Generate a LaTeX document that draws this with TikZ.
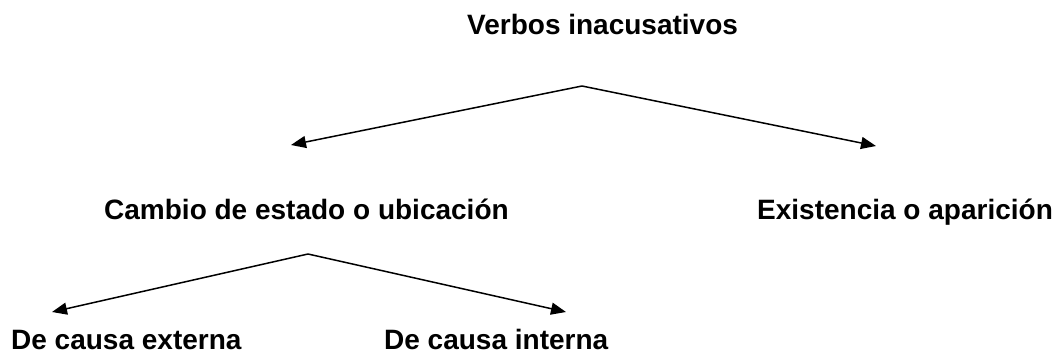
\documentclass[tikz,border=0pt]{standalone}
\usepackage{fontspec}
\setmainfont{Liberation Sans}
\usetikzlibrary{arrows.meta}
\begin{document}
\begin{tikzpicture}[x=1pt,y=1pt,
  lbl/.style={anchor=base west,inner sep=0pt,font=\fontsize{28}{33}\selectfont\bfseries},
  arr/.style={line width=1.5pt,-{Triangle[length=15pt,width=12pt]}}]
\useasboundingbox (0,0) rectangle (1060,-354);
\node[lbl] (verbos) at (467,-34) {Verbos inacusativos};
\node[lbl] (cambio) at (104,-219) {Cambio de estado o ubicación};
\node[lbl] (exist) at (757,-219) {Existencia o aparición};
\node[lbl] (ext) at (11,-349) {De causa externa};
\node[lbl] (int) at (384,-349) {De causa interna};
\coordinate (a1) at (582,-86);
\coordinate (t1l) at (291,-145);
\coordinate (t1r) at (876,-146);
\coordinate (a2) at (308,-254);
\coordinate (t2l) at (52,-312);
\coordinate (t2r) at (566,-312);
\draw[arr] (a1) -- (t1l);
\draw[arr] (a1) -- (t1r);
\draw[arr] (a2) -- (t2l);
\draw[arr] (a2) -- (t2r);
\end{tikzpicture}
\end{document}
